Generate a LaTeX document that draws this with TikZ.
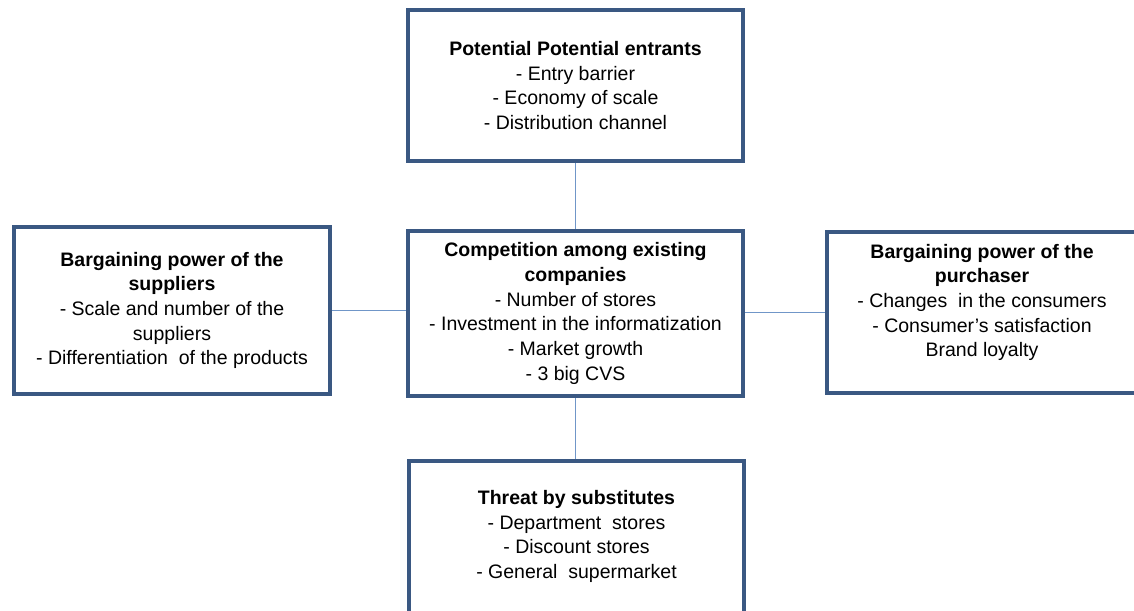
\documentclass[tikz,border=0pt]{standalone}
\usepackage{fontspec}
\setmainfont{Liberation Sans}
\definecolor{boxblue}{RGB}{58,88,130}
\definecolor{lineblue}{RGB}{112,150,200}
\usetikzlibrary{positioning}
\begin{document}
\begin{tikzpicture}[x=1pt, y=-1pt,
				force/.style={draw=boxblue, line width=3.6pt, fill=white, align=center, inner sep=0pt,
					font=\fontsize{19.5}{24.7}\selectfont, minimum width=335pt, minimum height=151pt},
				link/.style={draw=lineblue, line width=1.6pt}]
				%Bildbereich
				\useasboundingbox (0,0) rectangle (1134,610);
				% Kaesten zeichnen
				\node[force] (entrants) at (575.5,85.5) {\textbf{Potential Potential entrants}\\- Entry barrier\\- Economy of scale\\- Distribution channel};
				\node[force, minimum height=165pt] (rivalry) at (575.5,313.5) {\textbf{Competition among existing}\\\textbf{companies}\\- Number of stores\\- Investment  in the informatization\\- Market growth\\- 3 big CVS};
				\node[force, minimum width=316pt, minimum height=167pt] (suppliers) at (172,310.5) {\textbf{Bargaining power of the}\\\textbf{suppliers}\\- Scale and number of the\\suppliers\\- Differentiation\ \ of the products};
				\node[force, minimum width=310pt, minimum height=161pt, text depth=24pt] (buyers) at (982,312.5) {\textbf{Bargaining power of the}\\\textbf{purchaser}\\- Changes\ \ in the consumers\\- Consumer’s satisfaction\\Brand loyalty};
				\node[force, minimum height=160pt, text depth=13pt] (substitutes) at (576.5,541) {\textbf{Threat by substitutes}\\- Department\ \ stores\\- Discount stores\\- General\ \ supermarket};
				% Verbindungen zeichnen
				\draw[link] (entrants.south) -- (entrants.south |- rivalry.north);
				\draw[link] (suppliers.east) -- (suppliers.east -| rivalry.west);
				\draw[link] (rivalry.east |- buyers.west) -- (buyers.west);
				\draw[link] (rivalry.south) -- (rivalry.south |- substitutes.north);
			\end{tikzpicture}
\end{document}
